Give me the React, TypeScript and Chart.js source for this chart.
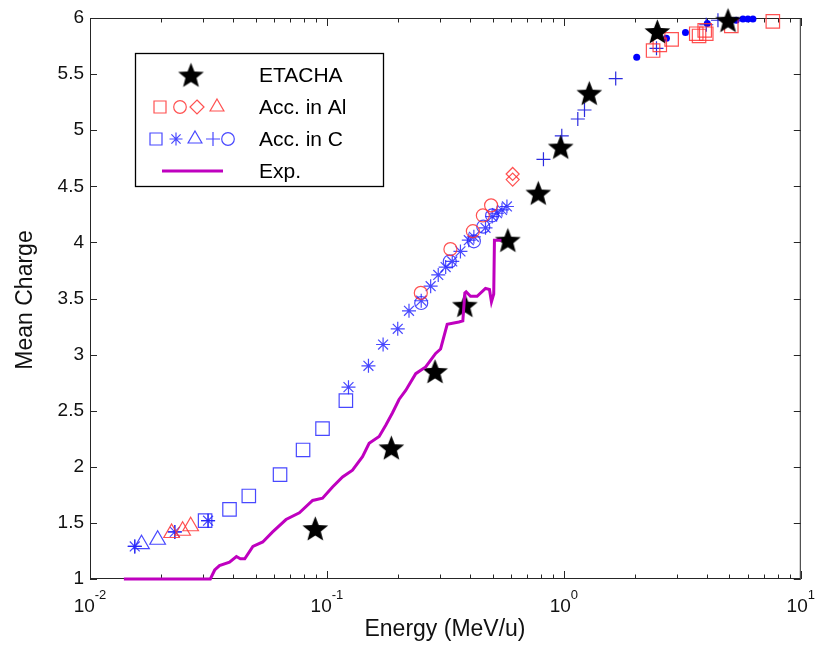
import React, { useEffect, useRef } from 'react';
import { Chart, registerables } from 'chart.js';

Chart.register(...registerables);

// ---------- axes ----------
const X_MIN = 0.01;
const X_MAX = 10;
const Y_MIN = 1;
const Y_MAX = 6;
const Y_STEP = 0.5;
const xTickExponents = [-2, -1, 0, 1];

// ---------- ETACHA (filled stars) ----------
const etachaE = [0.0893, 0.187, 0.286, 0.382, 0.58, 0.78, 0.97, 1.28, 2.48, 4.93];
const etachaQ = [1.45, 2.17, 2.85, 3.44, 4.02, 4.44, 4.85, 5.33, 5.88, 5.98];

// ---------- Exp. (line) ----------
const expE = [0.0139, 0.0322, 0.0336, 0.0352, 0.0388, 0.0415, 0.0431, 0.0450, 0.0487, 0.0536,
  0.0590, 0.0672, 0.0765, 0.0870, 0.0958, 0.1056, 0.1164, 0.1282, 0.1413, 0.1507,
  0.1661, 0.1771, 0.1889, 0.2015, 0.2150, 0.2370, 0.2611, 0.2876, 0.3018, 0.3218,
  0.3605, 0.3746, 0.3820, 0.3868, 0.4036, 0.4303, 0.4668, 0.4853, 0.4947, 0.5058,
  0.5093, 0.5452];
const expQ = [1.00, 1.00, 1.08, 1.12, 1.15, 1.20, 1.18, 1.18, 1.29, 1.33,
  1.42, 1.53, 1.59, 1.70, 1.72, 1.82, 1.91, 1.97, 2.09, 2.21,
  2.27, 2.37, 2.48, 2.60, 2.68, 2.83, 2.89, 3.01, 3.05, 3.27,
  3.29, 3.30, 3.55, 3.56, 3.52, 3.52, 3.59, 3.58, 3.47, 3.54,
  4.02, 4.02];

// ---------- Acc. in Al (red) ----------
const alSquareE = [2.38, 2.54, 2.85, 3.62, 3.72, 3.93, 3.99, 5.09, 7.62];
const alSquareQ = [5.71, 5.76, 5.81, 5.86, 5.84, 5.89, 5.86, 5.93, 5.97];
const alCircleE = [0.249, 0.332, 0.413, 0.455, 0.493];
const alCircleQ = [3.55, 3.94, 4.10, 4.24, 4.33];
const alDiamondE = [0.608, 0.608];
const alDiamondQ = [4.61, 4.56];
const alTriangleE = [0.0221, 0.0246, 0.0266];
const alTriangleQ = [1.41, 1.43, 1.47];

// ---------- Acc. in C (blue) ----------
const cSquareE = [0.0306, 0.0388, 0.0468, 0.0634, 0.0793, 0.0958, 0.1202];
const cSquareQ = [1.52, 1.62, 1.74, 1.93, 2.15, 2.34, 2.59];
const cAsteriskE = [0.01545, 0.0228, 0.0315, 0.1233, 0.1497, 0.1726, 0.199, 0.222, 0.250, 0.274,
  0.295, 0.317, 0.338, 0.366, 0.397, 0.417, 0.467, 0.498, 0.522, 0.548, 0.575];
const cAsteriskQ = [1.29, 1.42, 1.52, 2.71, 2.90, 3.09, 3.23, 3.39, 3.48, 3.61,
  3.71, 3.78, 3.83, 3.92, 4.02, 4.05, 4.13, 4.23, 4.26, 4.29, 4.32];
const cTriangleE = [0.0165, 0.0193];
const cTriangleQ = [1.31, 1.35];
const cPlusE = [0.01545, 0.0228, 0.0315, 0.820, 0.980, 1.145, 1.222, 1.655, 2.46, 3.99, 4.47];
const cPlusQ = [1.29, 1.42, 1.52, 4.74, 4.95, 5.10, 5.18, 5.46, 5.73, 5.94, 5.98];
const cCircleE = [0.250, 0.330, 0.417, 0.457, 0.498];
const cCircleQ = [3.46, 3.83, 4.01, 4.14, 4.24];
const cDotE = [2.03, 2.71, 3.26, 4.03, 5.34, 5.70, 5.98, 6.28];
const cDotQ = [5.65, 5.82, 5.87, 5.95, 5.98, 5.99, 5.99, 5.99];

// ---------- text ----------
const xTitle = 'Energy (MeV/u)';
const yTitle = 'Mean Charge';
const legendLabels = ['ETACHA', 'Acc. in Al', 'Acc. in C', 'Exp.'];

const RED = 'rgba(255,50,50,0.85)';
const BLUE = 'rgba(40,40,255,0.85)';
const MAGENTA = '#bf00bf';
const FONT = '"Liberation Sans", Arial, sans-serif';

const pts = (xs: number[], ys: number[]) => xs.map((x, i) => ({ x, y: ys[i] }));

function makeStar(outer: number, inner: number, color: string) {
  const size = Math.ceil(outer * 2 + 2);
  const c = document.createElement('canvas');
  c.width = size;
  c.height = size;
  const g = c.getContext('2d')!;
  g.fillStyle = color;
  g.beginPath();
  for (let i = 0; i < 10; i++) {
    const r = i % 2 === 0 ? outer : inner;
    const a = -Math.PI / 2 + (i * Math.PI) / 5;
    const px = size / 2 + r * Math.cos(a);
    const py = size / 2 + 1.2 + r * Math.sin(a);
    if (i === 0) g.moveTo(px, py);
    else g.lineTo(px, py);
  }
  g.closePath();
  g.fill();
  return c;
}

function shape(ctx: CanvasRenderingContext2D, kind: string, x: number, y: number, r: number) {
  ctx.beginPath();
  if (kind === 'square') ctx.rect(x - r, y - r, 2 * r, 2 * r);
  else if (kind === 'circle') ctx.arc(x, y, r, 0, Math.PI * 2);
  else if (kind === 'diamond') {
    ctx.moveTo(x, y - r); ctx.lineTo(x + r, y); ctx.lineTo(x, y + r); ctx.lineTo(x - r, y); ctx.closePath();
  } else if (kind === 'triangle') {
    ctx.moveTo(x, y - r); ctx.lineTo(x + r * 0.866, y + r * 0.5); ctx.lineTo(x - r * 0.866, y + r * 0.5); ctx.closePath();
  } else if (kind === 'plus' || kind === 'asterisk') {
    ctx.moveTo(x - r, y); ctx.lineTo(x + r, y); ctx.moveTo(x, y - r); ctx.lineTo(x, y + r);
    if (kind === 'asterisk') {
      const d = r * 0.707;
      ctx.moveTo(x - d, y - d); ctx.lineTo(x + d, y + d); ctx.moveTo(x - d, y + d); ctx.lineTo(x + d, y - d);
    }
  }
  ctx.stroke();
}

export default function App() {
  const ref = useRef<HTMLCanvasElement | null>(null);

  useEffect(() => {
    if (!ref.current) return;
    const starImg = makeStar(13.5, 5.8, '#000');
    const legendStar = makeStar(13.5, 5.8, '#000');

    const axesPlugin = {
      id: 'axesDecor',
      beforeDatasetsDraw(chart: any) {
        const ctx = chart.ctx as CanvasRenderingContext2D;
        const { left, right, top, bottom } = chart.chartArea;
        const xs = chart.scales.x;
        const ys = chart.scales.y;
        ctx.save();
        ctx.strokeStyle = '#262626';
        ctx.lineWidth = 1;
        ctx.strokeRect(left + 0.5, top + 0.5, right - left - 1, bottom - top - 1);
        ctx.beginPath();
        for (let v = Y_MIN; v <= Y_MAX + 1e-9; v += Y_STEP) {
          const py = Math.round(ys.getPixelForValue(v)) + 0.5;
          ctx.moveTo(left, py); ctx.lineTo(left + 7, py);
          ctx.moveTo(right, py); ctx.lineTo(right - 7, py);
        }
        for (const e of xTickExponents) {
          for (let m = 1; m <= 9; m++) {
            const v = m * Math.pow(10, e);
            if (v > X_MAX * 1.0001) break;
            const px = Math.round(xs.getPixelForValue(v)) + 0.5;
            const len = m === 1 ? 8 : 4.5;
            ctx.moveTo(px, bottom); ctx.lineTo(px, bottom - len);
            ctx.moveTo(px, top); ctx.lineTo(px, top + len);
          }
        }
        ctx.stroke();
        ctx.restore();
      },
      afterDraw(chart: any) {
        const ctx = chart.ctx as CanvasRenderingContext2D;
        const xs = chart.scales.x;
        ctx.save();
        ctx.fillStyle = '#111';
        // x tick labels 10^n
        for (const e of xTickExponents) {
          const px = xs.getPixelForValue(Math.pow(10, e));
          ctx.font = `19px ${FONT}`;
          const bw = ctx.measureText('10').width;
          ctx.font = `13px ${FONT}`;
          const sup = String(e);
          const sw = ctx.measureText(sup).width;
          const x0 = px - (bw + sw) / 2;
          ctx.textAlign = 'left';
          ctx.textBaseline = 'alphabetic';
          ctx.font = `19px ${FONT}`;
          ctx.fillText('10', x0, 612);
          ctx.font = `13px ${FONT}`;
          ctx.fillText(sup, x0 + bw, 599);
        }
        // axis titles
        ctx.font = `23px ${FONT}`;
        ctx.textAlign = 'center';
        ctx.fillText(xTitle, 445, 636);
        ctx.save();
        ctx.translate(32, 300);
        ctx.rotate(-Math.PI / 2);
        ctx.textBaseline = 'alphabetic';
        ctx.fillText(yTitle, 0, 0);
        ctx.restore();

        // legend
        const bx = 135, by = 53, bw2 = 248, bh = 133;
        ctx.fillStyle = '#fff';
        ctx.fillRect(bx, by, bw2, bh);
        ctx.strokeStyle = '#000';
        ctx.lineWidth = 1.3;
        ctx.strokeRect(bx + 0.5, by + 0.5, bw2, bh);
        const rows = [75, 107, 139, 171];
        ctx.drawImage(legendStar, 191 - legendStar.width / 2, rows[0] - legendStar.height / 2);
        ctx.lineWidth = 1.2;
        ctx.strokeStyle = RED;
        shape(ctx, 'square', 160, rows[1], 6);
        shape(ctx, 'circle', 180, rows[1], 6.3);
        shape(ctx, 'diamond', 197, rows[1], 7);
        shape(ctx, 'triangle', 217, rows[1], 8);
        ctx.strokeStyle = BLUE;
        shape(ctx, 'square', 156, rows[2], 6);
        shape(ctx, 'asterisk', 176, rows[2], 6.5);
        shape(ctx, 'triangle', 195, rows[2], 8);
        shape(ctx, 'plus', 213, rows[2], 7);
        shape(ctx, 'circle', 228, rows[2], 6.3);
        ctx.strokeStyle = MAGENTA;
        ctx.lineWidth = 3;
        ctx.beginPath();
        ctx.moveTo(162, rows[3]); ctx.lineTo(223, rows[3]);
        ctx.stroke();
        ctx.fillStyle = '#000';
        ctx.font = `21px ${FONT}`;
        ctx.textAlign = 'left';
        ctx.textBaseline = 'middle';
        legendLabels.forEach((t, i) => ctx.fillText(t, 259, rows[i] + 1));
        ctx.restore();
      },
    };

    const mk = (data: any[], style: any, radius: number, color: string, fill = 'transparent', width = 1.2) => ({
      data,
      showLine: false,
      pointStyle: style,
      pointRadius: radius,
      pointBorderColor: color,
      pointBackgroundColor: fill,
      pointBorderWidth: width,
      clip: false as any,
    });

    const chart = new Chart(ref.current, {
      type: 'scatter',
      data: {
        datasets: [
          {
            data: pts(expE, expQ),
            showLine: true,
            borderColor: MAGENTA,
            borderWidth: 3,
            pointRadius: 0,
            tension: 0,
            clip: false as any,
          } as any,
          mk(pts(etachaE, etachaQ), starImg, 14, '#000'),
          mk(pts(alSquareE, alSquareQ), 'rect', 9.5, RED),
          mk(pts(alCircleE, alCircleQ), 'circle', 6.5, RED),
          mk(pts(alDiamondE, alDiamondQ), 'rectRot', 6.5, RED),
          mk(pts(alTriangleE, alTriangleQ), 'triangle', 9, RED),
          mk(pts(cSquareE, cSquareQ), 'rect', 9.5, BLUE),
          mk(pts(cAsteriskE, cAsteriskQ), 'star', 7, BLUE),
          mk(pts(cTriangleE, cTriangleQ), 'triangle', 9, BLUE),
          mk(pts(cPlusE, cPlusQ), 'cross', 7, 'rgba(20,20,220,0.9)'),
          mk(pts(cCircleE, cCircleQ), 'circle', 6.5, BLUE),
          mk(pts(cDotE, cDotQ), 'circle', 3.5, '#0000ff', '#0000ff', 0),
        ],
      },
      options: {
        animation: false,
        responsive: true,
        maintainAspectRatio: false,
        events: [],
        layout: { padding: { left: 8, right: 13, top: 18, bottom: 0 } },
        plugins: { legend: { display: false }, tooltip: { enabled: false } },
        scales: {
          x: {
            type: 'logarithmic',
            min: X_MIN,
            max: X_MAX,
            grid: { display: false, drawTicks: false },
            border: { display: false },
            ticks: { display: false },
            afterFit: (s: any) => { s.height = 67; },
          },
          y: {
            type: 'linear',
            min: Y_MIN,
            max: Y_MAX,
            grid: { display: false, drawTicks: false },
            border: { display: false },
            ticks: {
              stepSize: Y_STEP,
              padding: 6,
              color: '#111',
              font: { family: FONT, size: 19 },
              callback: (v: any) => String(Number(v)),
            },
            afterFit: (s: any) => { s.width = 82; },
          },
        },
      } as any,
      plugins: [axesPlugin],
    });
    return () => chart.destroy();
  }, []);

  return (
    <div style={{ position: 'absolute', left: 0, top: 0, width: 816, height: 646, background: '#fff' }}>
      <canvas ref={ref} />
    </div>
  );
}
